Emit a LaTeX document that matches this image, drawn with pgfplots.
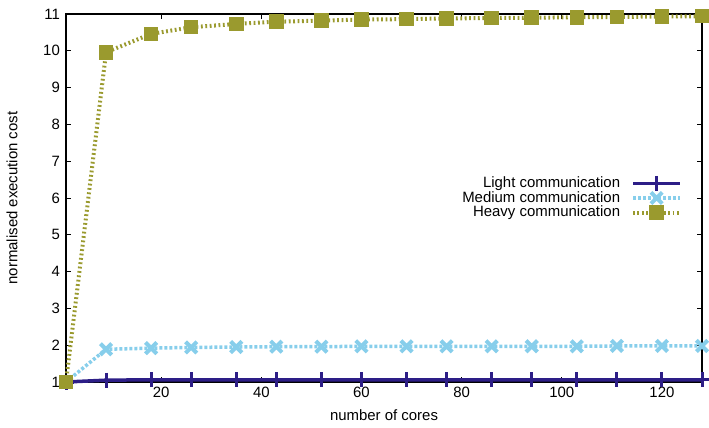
\documentclass[border=0pt]{standalone}
\usepackage{pgfplots}
\pgfplotsset{compat=1.18}
\usepackage{fontspec}
\setmainfont{Liberation Sans}
\definecolor{cLight}{RGB}{45,30,135}
\definecolor{cMed}{RGB}{135,206,235}
\definecolor{cHeavy}{RGB}{154,154,46}
\begin{document}
\fontsize{15}{17}\selectfont
\begin{tikzpicture}[x=1bp,y=1bp]
\useasboundingbox (0,0) rectangle (709,427);
\begin{axis}[
  at={(66bp,45bp)}, anchor=south west,
  scale only axis, width=636bp, height=368bp,
  xmin=1, xmax=128, ymin=1, ymax=11,
  xtick={20,40,60,80,100,120},
  ytick={1,2,...,11},
  tick align=inside, tick pos=both,
  major tick length=5bp,
  axis line style={line width=1.2bp},
  every tick/.style={line width=1bp, black},
  /pgf/number format/assume math mode=true,
  ticklabel style={font=\fontsize{15}{17}\selectfont},
  yticklabel style={xshift=-1bp},
  label style={font=\fontsize{15}{17}\selectfont},
  xlabel={number of cores},
  ylabel={normalised execution cost},
  xlabel style={at={(axis description cs:0.5,-0.09)}, anchor=center},
  ylabel style={at={(axis description cs:-0.085,0.5)}, anchor=center},
  clip=false,
  legend plot pos=right,
  legend cell align=right,
  legend style={draw=none, fill=none, at={(rel axis cs:0.969,0.50)}, anchor=east,
    font=\fontsize{15}{15.5}\selectfont, inner sep=0pt, row sep=-2.5bp,
    /tikz/every odd column/.append style={column sep=9bp}},
  legend image code/.code={
    \draw[mark repeat=2,mark phase=2] plot coordinates {(0bp,0bp) (23.5bp,0bp) (47bp,0bp)};},
]
\addplot[cLight, line width=3.5bp, mark=+, mark size=7.5bp, mark options={solid, line width=3bp}]
coordinates {(1,1) (9,1.05) (18,1.06) (26,1.06) (35,1.06) (43,1.06) (52,1.06) (60,1.06) (69,1.06) (77,1.06) (86,1.06) (94,1.06) (103,1.06) (111,1.06) (120,1.06) (128,1.06)};
\addlegendentry{Light communication}
\addplot[cMed, line width=3.5bp, dash pattern=on 3bp off 2bp, mark=x, mark size=8bp, mark options={solid, line width=4bp}]
coordinates {(1,1) (9,1.89) (18,1.92) (26,1.94) (35,1.95) (43,1.96) (52,1.96) (60,1.97) (69,1.97) (77,1.97) (86,1.97) (94,1.97) (103,1.97) (111,1.98) (120,1.98) (128,1.98)};
\addlegendentry{Medium communication}
\addplot[cHeavy, line width=4bp, dash pattern=on 1.8bp off 2.6bp, mark=square*, mark size=6.5bp, mark options={solid, line width=1.5bp}]
coordinates {(1,1) (9,9.96) (18,10.46) (26,10.64) (35,10.73) (43,10.79) (52,10.82) (60,10.85) (69,10.86) (77,10.88) (86,10.89) (94,10.90) (103,10.91) (111,10.92) (120,10.93) (128,10.94)};
\addlegendentry{Heavy communication}
\end{axis}
\end{tikzpicture}
\end{document}
